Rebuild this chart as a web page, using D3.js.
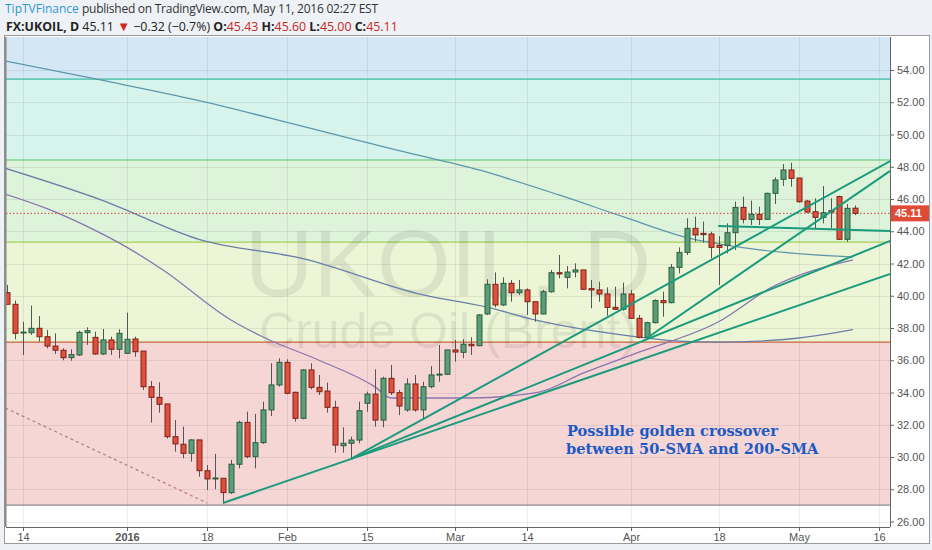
<!DOCTYPE html>
<html><head><meta charset="utf-8">
<script src="https://cdn.jsdelivr.net/npm/d3@7"></script>
<style>
html,body{margin:0;padding:0;background:#eef1f5;}
svg{display:block;}
</style></head>
<body><svg id="c" width="932" height="550"></svg>
<script>
// ---------------- DATA ----------------
const dates = [
 '2015-12-10','2015-12-11','2015-12-14','2015-12-15','2015-12-16','2015-12-17','2015-12-18','2015-12-21','2015-12-22','2015-12-23','2015-12-24','2015-12-28','2015-12-29','2015-12-30','2015-12-31',
 '2016-01-04','2016-01-05','2016-01-06','2016-01-07','2016-01-08','2016-01-11','2016-01-12','2016-01-13','2016-01-14','2016-01-15','2016-01-18','2016-01-19','2016-01-20','2016-01-21','2016-01-22','2016-01-25','2016-01-26','2016-01-27','2016-01-28','2016-01-29',
 '2016-02-01','2016-02-02','2016-02-03','2016-02-04','2016-02-05','2016-02-08','2016-02-09','2016-02-10','2016-02-11','2016-02-12','2016-02-15','2016-02-16','2016-02-17','2016-02-18','2016-02-19','2016-02-22','2016-02-23','2016-02-24','2016-02-25','2016-02-26','2016-02-29',
 '2016-03-01','2016-03-02','2016-03-03','2016-03-04','2016-03-07','2016-03-08','2016-03-09','2016-03-10','2016-03-11','2016-03-14','2016-03-15','2016-03-16','2016-03-17','2016-03-18','2016-03-21','2016-03-22','2016-03-23','2016-03-24','2016-03-28','2016-03-29','2016-03-30','2016-03-31',
 '2016-04-01','2016-04-04','2016-04-05','2016-04-06','2016-04-07','2016-04-08','2016-04-11','2016-04-12','2016-04-13','2016-04-14','2016-04-15','2016-04-18','2016-04-19','2016-04-20','2016-04-21','2016-04-22','2016-04-25','2016-04-26','2016-04-27','2016-04-28','2016-04-29',
 '2016-05-02','2016-05-03','2016-05-04','2016-05-05','2016-05-06','2016-05-09','2016-05-10','2016-05-11'];
const futureDates = ['2016-05-12','2016-05-13','2016-05-16','2016-05-17'];

const open = [40.19,39.47,37.71,37.71,37.98,37.46,36.88,36.62,36.16,36.33,37.71,37.42,36.39,37.26,36.68,
 36.43,37.32,36.57,34.36,33.70,33.29,31.26,30.79,30.23,31.06,29.15,28.66,28.68,27.79,29.55,32.15,30.02,30.89,32.92,34.47,
 35.87,34.01,32.40,35.40,34.32,34.09,33.08,30.70,30.85,31.05,33.33,33.90,32.29,34.88,33.99,32.92,34.53,32.92,34.36,35.10,35.13,
 36.64,36.49,36.99,36.90,38.87,40.71,39.43,40.77,40.19,40.36,39.63,38.87,40.25,41.43,41.14,41.47,41.60,40.44,40.36,40.11,39.28,39.16,
 40.11,38.60,37.42,38.33,39.70,39.57,41.76,42.69,44.18,43.87,43.83,43.12,43.12,43.91,45.48,44.74,45.05,44.74,46.35,47.22,47.80,
 47.30,45.87,45.21,44.86,45.28,46.15,43.50,45.43];
const high = [40.67,39.70,38.39,39.39,38.74,37.88,37.67,36.74,36.68,37.83,38.04,37.77,37.94,37.46,37.92,
 38.95,37.46,36.57,34.71,34.63,33.29,32.29,31.88,31.10,31.06,29.50,30.19,28.68,29.82,32.25,32.81,32.67,33.43,35.81,36.12,
 36.06,34.05,35.44,35.81,35.09,34.61,33.49,31.84,31.26,33.43,34.05,35.44,34.98,35.71,34.16,34.88,35.09,34.67,35.64,36.95,36.64,
 37.26,37.30,37.42,38.87,41.02,41.45,41.14,40.98,40.98,40.46,39.63,40.36,41.60,42.53,41.84,42.01,41.60,40.98,40.87,40.52,40.56,40.81,
 40.36,38.81,38.39,39.78,40.25,41.97,43.00,44.80,44.90,44.60,43.97,43.70,44.49,45.83,46.15,45.90,45.52,46.39,47.34,48.17,48.25,
 47.30,45.94,46.04,46.80,46.04,46.21,45.69,45.60];
const low = [39.45,37.30,36.33,37.57,37.15,36.74,36.39,36.00,35.97,36.26,36.95,36.33,36.33,36.33,36.12,
 36.39,36.22,34.16,32.13,32.75,31.14,30.33,29.92,29.71,28.78,27.95,28.00,27.10,27.71,29.30,29.92,29.30,30.81,32.54,34.36,
 33.89,32.19,32.34,34.20,33.85,32.75,30.27,30.27,29.88,30.85,32.81,31.88,31.84,33.85,32.60,32.81,32.81,32.40,34.26,34.67,35.09,
 35.91,36.12,36.33,36.88,38.81,39.28,39.36,39.63,40.05,38.81,38.39,38.85,40.19,41.08,40.46,41.14,40.36,39.22,39.63,38.76,39.12,39.07,
 38.56,37.36,37.36,38.29,38.70,39.53,41.39,42.53,43.35,43.29,42.32,40.67,42.63,42.84,44.49,44.39,44.39,44.70,45.69,46.81,46.77,
 45.77,45.15,44.18,44.49,44.18,43.46,43.35,45.00];
const close = [39.47,37.67,37.75,37.98,37.46,36.88,36.62,36.16,36.35,37.73,37.83,36.39,37.26,36.68,37.67,
 37.30,36.53,34.36,33.70,33.27,31.26,30.81,30.23,31.06,29.15,28.64,28.70,27.79,29.55,32.15,30.02,30.89,32.92,34.47,35.87,
 33.95,32.40,35.40,34.32,34.05,33.08,30.74,30.85,31.05,32.87,33.90,32.29,34.88,33.99,33.16,34.53,32.92,34.36,35.09,35.14,36.64,
 36.51,36.99,36.90,38.81,40.71,39.43,40.77,40.19,40.36,39.63,38.87,40.25,41.43,41.35,41.47,41.60,40.40,40.36,40.11,39.28,39.16,40.11,
 38.60,37.42,38.33,39.70,39.57,41.76,42.69,44.18,43.77,43.79,43.00,43.00,43.91,45.48,44.74,45.05,44.74,46.35,47.18,47.80,47.28,
 45.83,45.19,44.86,45.15,45.19,43.50,45.42,45.11];

// axis ticks
const xTickDates  = ['2015-12-14','2016-01-04','2016-01-18','2016-02-01','2016-02-15','2016-03-01','2016-03-14','2016-04-01','2016-04-18','2016-05-02','2016-05-16'];
const xTickLabels = ['14','2016','18','Feb','15','Mar','14','Apr','18','May','16'];
const yTicks = [26,28,30,32,34,36,38,40,42,44,46,48,50,52,54];

// retracement zone levels (price) and their colours
const zoneLevels = [27.02, 37.13, 43.33, 48.42, 53.44, 60];
const zoneFills  = ['#f6d5d5','#ecf6d7','#ddf3da','#d6f4eb','#d4e7f5'];
const levelColors = ['#8c8c8c','#c8643c','#a6cf55','#5cc46c','#3dbda0'];

// moving averages: [bar index, price]
const sma200 = [[-0.2,54.56],[12,53.35],[24,52.1],[37,50.5],[49,49.0],[59,47.8],[69,46.25],[77,44.9],[85,43.6],[94,42.85],[105.75,42.4]];
const sma100 = [[-0.2,47.9],[12,45.9],[24,43.5],[37,42.3],[52,40.05],[60,39.3],[66,38.5],[79,37.44],[84,37.19],[89,37.13],[94,37.19],[99,37.38],[105.75,37.9]];
const sma50  = [[-0.2,46.3],[5,45.4],[10,44.3],[15,43.0],[19.5,41.6],[28,38.5],[32,37.44],[39,36.0],[46,34.35],[48,33.66],[58,33.66],[66.5,34.03],[72,35.2],[79,36.5],[89,38.4],[95.5,40.5],[105.75,42.22]];

// trend / fan lines: [barIndex, price] pairs
const fanLines = [
  [[27,27.15],[110.4,41.35]],
  [[43,29.88],[110.4,48.35]],
  [[43,29.88],[110.4,43.40]],
  [[80,37.38],[110.4,47.75]],
  [[88.9,44.33],[110.4,44.02]]
];
const dashedLine = [[-0.2,33.04],[25,27.15]];
const lastPrice = 45.11;

// ---------------- CHART ----------------
const svg = d3.select('#c');
const L = 6, R = 890, T = 37, B = 527;
const allDates = dates.concat(futureDates);
const xi = d => allDates.indexOf(d);
const x = d3.scaleLinear().domain([-0.125, 110.375]).range([L, R]);
const y = d3.scaleLinear().domain([26, 54]).range([521.5, 70]);

// header
svg.append('text').attr('x',5).attr('y',13).attr('font-family','Open Sans, sans-serif').attr('font-size',12)
  .attr('fill','#2f97d4').text('TipTVFinance');
svg.append('text').attr('x',82).attr('y',13).attr('font-family','Open Sans, sans-serif').attr('font-size',12)
  .attr('fill','#333').attr('textLength',296).attr('lengthAdjust','spacing')
  .text('published on TradingView.com, May 11, 2016 02:27 EST');
const h2 = svg.append('text').attr('x',6).attr('y',30.5).attr('font-family','Open Sans, sans-serif').attr('font-size',12.4).attr('fill','#222');
h2.append('tspan').attr('font-weight','bold').text('FX:UKOIL, D');
h2.append('tspan').text(' 45.11 ');
h2.append('tspan').attr('fill','#d0281c').attr('font-size',13).text('▼');
h2.append('tspan').text(' −0.32 (−0.7%)');
[['O:','45.43'],['H:','45.60'],['L:','45.00'],['C:','45.11']].forEach((p,k)=>{
  h2.append('tspan').attr('font-weight','bold').text(' '+p[0]);
  h2.append('tspan').attr('fill','#c8281e').text(p[1]);
});

// frame
svg.append('rect').attr('x',4.5).attr('y',35.5).attr('width',925).attr('height',508).attr('fill','#fff').attr('stroke','#9a9a9a');

const defs = svg.append('defs');
defs.append('clipPath').attr('id','clip').append('rect').attr('x',L).attr('y',T).attr('width',R-L).attr('height',B-T);
const g = svg.append('g').attr('clip-path','url(#clip)');

// zones
for (let k=0;k<zoneFills.length;k++){
  g.append('rect').attr('x',L).attr('width',R-L)
    .attr('y',y(zoneLevels[k+1])).attr('height',y(zoneLevels[k])-y(zoneLevels[k+1]))
    .attr('fill',zoneFills[k]);
}
// grid
g.selectAll('.hg').data(yTicks).enter().append('line')
  .attr('x1',L).attr('x2',R).attr('y1',d=>Math.round(y(d))+0.5).attr('y2',d=>Math.round(y(d))+0.5)
  .attr('stroke','#000').attr('stroke-opacity',0.07);
g.selectAll('.vg').data(xTickDates).enter().append('line')
  .attr('y1',T).attr('y2',B).attr('x1',d=>Math.round(x(xi(d)))+0.5).attr('x2',d=>Math.round(x(xi(d)))+0.5)
  .attr('stroke','#000').attr('stroke-opacity',0.07);
// level lines
for (let k=0;k<levelColors.length;k++){
  g.append('line').attr('x1',L).attr('x2',R).attr('y1',y(zoneLevels[k])).attr('y2',y(zoneLevels[k]))
   .attr('stroke',levelColors[k]).attr('stroke-width',1.2);
}
// watermark
g.append('text').attr('x',448).attr('y',296).attr('text-anchor','middle').attr('font-family','Liberation Sans, Arial, sans-serif')
  .attr('font-size',95).attr('fill','#000').attr('fill-opacity',0.075).text('UKOIL, D');
g.append('text').attr('x',448).attr('y',348).attr('text-anchor','middle').attr('font-family','Liberation Sans, Arial, sans-serif')
  .attr('font-size',50).attr('fill','#000').attr('fill-opacity',0.075).text('Crude Oil (Brent)');

// dashed trend
const ln = d3.line().x(d=>x(d[0])).y(d=>y(d[1]));
g.append('path').attr('d',ln(dashedLine)).attr('fill','none').attr('stroke','#b87a7a').attr('stroke-width',1.2).attr('stroke-dasharray','3,3');

// moving averages
const curve = d3.line().x(d=>x(d[0])).y(d=>y(d[1])).curve(d3.curveMonotoneX);
g.append('path').attr('d',curve(sma200)).attr('fill','none').attr('stroke','#5e97ab').attr('stroke-width',1.3);
g.append('path').attr('d',curve(sma100)).attr('fill','none').attr('stroke','#6a7fa8').attr('stroke-width',1.3);
g.append('path').attr('d',curve(sma50)).attr('fill','none').attr('stroke','#8a75b0').attr('stroke-width',1.3);

// last price dotted line
g.append('line').attr('x1',L).attr('x2',R).attr('y1',y(lastPrice)).attr('y2',y(lastPrice))
  .attr('stroke','#d9443a').attr('stroke-width',1).attr('stroke-dasharray','1.5,2');

// candles
const bars = dates.map((d,i)=>({i,o:open[i],h:high[i],l:low[i],c:close[i]}));
const cg = g.append('g');
cg.selectAll('.w').data(bars).enter().append('line')
  .attr('x1',d=>x(d.i)+0.5).attr('x2',d=>x(d.i)+0.5).attr('y1',d=>y(d.h)).attr('y2',d=>y(d.l))
  .attr('stroke','#555').attr('stroke-width',1);
cg.selectAll('.b').data(bars).enter().append('rect')
  .attr('x',d=>x(d.i)-2).attr('width',5)
  .attr('y',d=>y(Math.max(d.o,d.c))).attr('height',d=>Math.max(1,Math.abs(y(d.o)-y(d.c))))
  .attr('fill',d=>d.c>=d.o?'#5c9e77':'#e0503d')
  .attr('stroke',d=>d.c>=d.o?'#2b5e40':'#7d2218').attr('stroke-width',1);

// fan lines
fanLines.forEach(f=>{
  g.append('path').attr('d',ln(f)).attr('fill','none').attr('stroke','#1a9b7c').attr('stroke-width',2);
});

// annotation
g.append('text').attr('x',567).attr('y',436).attr('font-family','DejaVu Serif, serif').attr('font-weight','bold')
  .attr('font-size',14.6).attr('fill','#1d5bc4').text('Possible golden crossover');
g.append('text').attr('x',566).attr('y',453.5).attr('font-family','DejaVu Serif, serif').attr('font-weight','bold')
  .attr('font-size',14.6).attr('fill','#1d5bc4').text('between 50-SMA and 200-SMA');

// axes lines
svg.append('line').attr('x1',R+0.5).attr('x2',R+0.5).attr('y1',T).attr('y2',B).attr('stroke','#666');
svg.append('line').attr('x1',L).attr('x2',R).attr('y1',B+0.5).attr('y2',B+0.5).attr('stroke','#666');
svg.append('line').attr('x1',L-0.5).attr('x2',L-0.5).attr('y1',T).attr('y2',B).attr('stroke','#888').attr('stroke-width',2);

// right axis
const ya = svg.append('g').attr('transform',`translate(${R},0)`)
  .call(d3.axisRight(y).tickValues(yTicks).tickSize(4).tickPadding(3).tickFormat(d3.format('.2f')));
ya.select('.domain').remove();
ya.selectAll('line').attr('stroke','#666');
ya.selectAll('text').attr('font-family','Liberation Sans, Arial, sans-serif').attr('font-size',11).attr('fill','#555');

// bottom axis
const xa = svg.append('g').attr('transform',`translate(0,${B})`)
  .call(d3.axisBottom(x).tickValues(xTickDates.map(xi)).tickSize(4).tickPadding(2).tickFormat((d,k)=>xTickLabels[k]));
xa.select('.domain').remove();
xa.selectAll('line').attr('stroke','#666');
xa.selectAll('text').attr('font-family','Liberation Sans, Arial, sans-serif').attr('font-size',11).attr('fill','#555')
  .attr('font-weight',(d,k)=>xTickLabels[k]==='2016'?'bold':'normal');

// last price tag
svg.append('rect').attr('x',R+1).attr('y',y(lastPrice)-8).attr('width',38).attr('height',16).attr('fill','#df4b36');
svg.append('text').attr('x',R+5).attr('y',y(lastPrice)+4).attr('font-family','Liberation Sans, Arial, sans-serif')
  .attr('font-size',11).attr('font-weight','bold').attr('fill','#fff').text(d3.format('.2f')(lastPrice));
</script></body></html>
